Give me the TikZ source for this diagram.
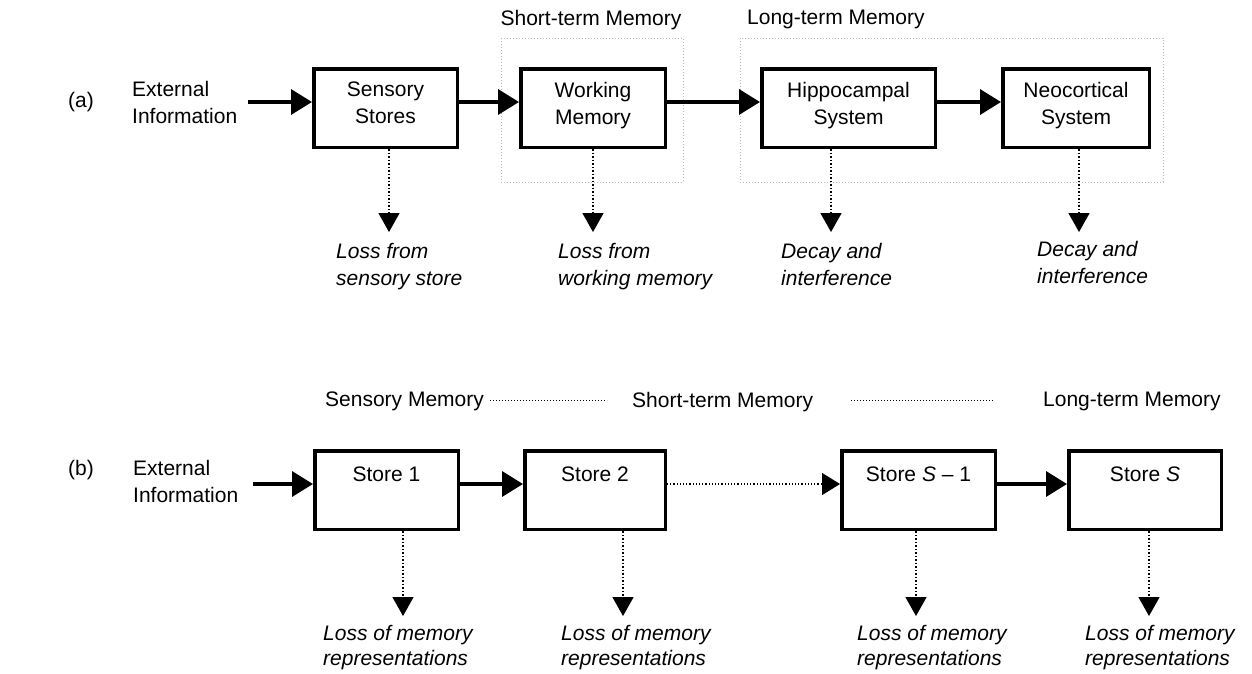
\documentclass[tikz,border=0pt]{standalone}
\usepackage{fontspec}
\setmainfont{Liberation Sans}
\usetikzlibrary{arrows.meta}
\begin{document}
\begin{tikzpicture}[x=1pt,y=-1pt,
  every node/.style={inner sep=0pt, font=\fontsize{21}{27}\selectfont},
  box/.style={draw, line width=3.5pt, minimum height=78.5pt},
  grp/.style={draw=gray!55, line width=1pt, dotted},
  flow/.style={line width=3.5pt, -{Triangle[length=21pt,width=25pt]}},
  loss/.style={line width=1.5pt, dotted, -{Triangle[length=19pt,width=21pt]}},
  thinarrow/.style={line width=1.2pt, dotted, -{Triangle[length=18pt,width=22pt]}},
  thinline/.style={line width=1pt, dotted},
  lbl/.style={align=left, anchor=north west},
  ilbl/.style={align=left, anchor=north west, font=\fontsize{21}{27}\selectfont\itshape},
  ilblb/.style={align=left, anchor=north west, font=\fontsize{21}{25}\selectfont\itshape},
  btxt/.style={align=center, anchor=north},
]
\useasboundingbox (0,0) rectangle (1252,673);

% ---------------- (a) ----------------
\node (a) at (81,102) {(a)};
\node[lbl] (extA) at (132,81) {External\\Information};

\node (stmA) at (591,10) [anchor=north] {Short-term Memory};
\node (ltmA) at (747,10) [anchor=north west] {Long-term Memory};
\draw[grp] (501,38) rectangle (683,182);
\draw[grp] (740,38) rectangle (1163,182);

\node[box, minimum width=143.5pt] (sens) at (385.5,108) {};
\node[box, minimum width=144.5pt] (work) at (593,108) {};
\node[box, minimum width=173.5pt] (hipp) at (848.5,108) {};
\node[box, minimum width=146.5pt] (neo)  at (1076,108) {};

\node[btxt] (sensT) at (385.5,82) {Sensory\\Stores};
\node[btxt] (workT) at (593,82) {Working\\Memory};
\node[btxt] (hippT) at (848.5,82) {Hippocampal\\System};
\node[btxt] (neoT)  at (1076,82) {Neocortical\\System};

\coordinate (extAs) at (248,102);
\draw[flow] (extAs) -- (sens.west |- extAs);
\draw[flow] (sens.east |- extAs) -- (work.west |- extAs);
\draw[flow] (work.east |- extAs) -- (hipp.west |- extAs);
\draw[flow] (hipp.east |- extAs) -- (neo.west |- extAs);

\coordinate (la1) at (389,232);
\coordinate (la2) at (593,232);
\coordinate (la3) at (831,232);
\coordinate (la4) at (1079,232);
\draw[loss] (sens.south -| la1) -- (la1);
\draw[loss] (work.south -| la2) -- (la2);
\draw[loss] (hipp.south -| la3) -- (la3);
\draw[loss] (neo.south -| la4) -- (la4);

\node[ilbl] (lossA1) at (336,243) {Loss from\\sensory store};
\node[ilbl] (lossA2) at (558,243) {Loss from\\working memory};
\node[ilbl] (lossA3) at (781,243) {Decay and\\interference};
\node[ilbl] (lossA4) at (1037,241) {Decay and\\interference};

% ---------------- (b) ----------------
\node (b) at (81,470) {(b)};
\node[lbl] (extB) at (133,460) {External\\Information};

\node[lbl] (smB)  at (325,392) {Sensory Memory};
\node[lbl] (stmB) at (632,392) {Short-term Memory};
\node[lbl] (ltmB) at (1043,392) {Long-term Memory};
\coordinate (d1a) at (490,400);
\coordinate (d1b) at (607,400);
\coordinate (d2a) at (851,400);
\coordinate (d2b) at (993,400);
\draw[thinline] (d1a) -- (d1b);
\draw[thinline] (d2a) -- (d2b);

\node[box, minimum width=143.5pt] (s1) at (386.5,490) {};
\node[box, minimum width=140.5pt] (s2) at (595,490) {};
\node[box, minimum width=153.5pt] (s3) at (918.5,490) {};
\node[box, minimum width=152.5pt] (s4) at (1145,490) {};

\node[btxt] (s1T) at (386.5,467) {Store 1};
\node[btxt] (s2T) at (595,467) {Store 2};
\node[btxt] (s3T) at (918.5,467) {Store \textit{S} – 1};
\node[btxt] (s4T) at (1145,467) {Store \textit{S}};

\coordinate (extBs) at (253,484);
\draw[flow] (extBs) -- (s1.west |- extBs);
\draw[flow] (s1.east |- extBs) -- (s2.west |- extBs);
\draw[thinarrow] (s2.east |- extBs) -- (s3.west |- extBs);
\draw[flow] (s3.east |- extBs) -- (s4.west |- extBs);

\coordinate (lb1) at (403,616);
\coordinate (lb2) at (623,616);
\coordinate (lb3) at (916,616);
\coordinate (lb4) at (1149,616);
\draw[loss] (s1.south -| lb1) -- (lb1);
\draw[loss] (s2.south -| lb2) -- (lb2);
\draw[loss] (s3.south -| lb3) -- (lb3);
\draw[loss] (s4.south -| lb4) -- (lb4);

\node[ilblb] (lossB1) at (323,625) {Loss of memory\\representations};
\node[ilblb] (lossB2) at (561,625) {Loss of memory\\representations};
\node[ilblb] (lossB3) at (857,625) {Loss of memory\\representations};
\node[ilblb] (lossB4) at (1085,625) {Loss of memory\\representations};
\end{tikzpicture}
\end{document}
